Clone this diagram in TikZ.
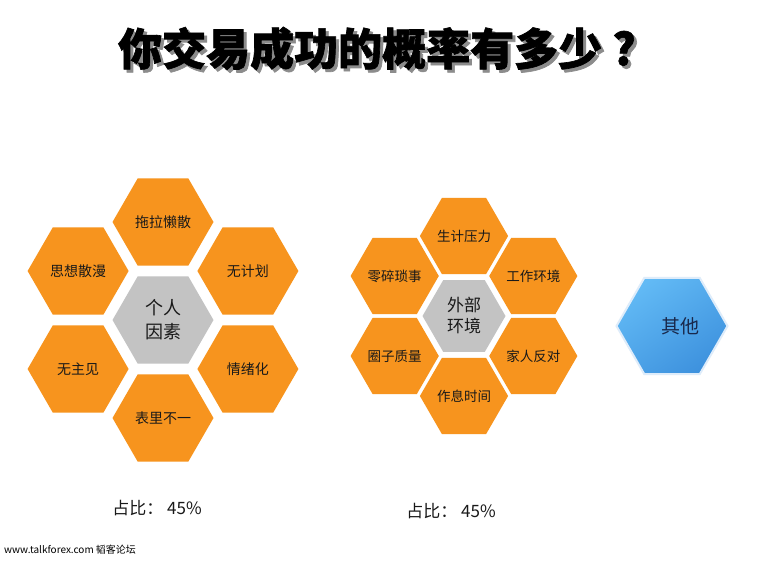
\documentclass[tikz,border=0pt]{standalone}
\usepackage{fontspec}
\setmainfont{Noto Sans CJK SC}
\newfontfamily\titlecjk{Noto Sans CJK SC}[BoldFeatures={FakeBold=1.5}]
\usetikzlibrary{shapes.geometric,shadings}
\definecolor{hexorange}{RGB}{247,148,30}
\definecolor{hexgray}{RGB}{195,195,195}
\definecolor{bluelight}{RGB}{98,186,245}
\definecolor{bluedark}{RGB}{62,146,222}
\definecolor{blueedge}{RGB}{222,236,250}
\definecolor{navytext}{RGB}{25,40,75}
\definecolor{labeltext}{RGB}{25,25,25}
\newcommand{\titletext}{你交易成功的概率有多少 ?}
\begin{document}
\begin{tikzpicture}[x=1pt,y=-1pt,
  hexbase/.style={regular polygon, regular polygon sides=6, inner sep=0pt, text=labeltext},
  hexbig/.style={hexbase, minimum size=101pt, fill=hexorange, font=\fontsize{14}{16}\selectfont},
  hexbigc/.style={hexbase, minimum size=101pt, fill=hexgray, align=center, font=\fontsize{18}{24}\selectfont},
  hexsmall/.style={hexbase, minimum size=83pt, fill=hexorange, font=\fontsize{13.5}{15}\selectfont},
  hexsmallc/.style={hexbase, minimum size=83pt, fill=hexgray, align=center, font=\fontsize{17}{21}\selectfont},
  hexblue/.style={hexbase, minimum size=111pt, top color=bluelight, bottom color=bluedark, shading angle=35, draw=blueedge, line width=2pt},
  titlefont/.style={font=\titlecjk\fontsize{44}{48}\selectfont\bfseries},
  ratio/.style={font=\fontsize{17}{20}\selectfont, text=labeltext}
]
\useasboundingbox (0,0) rectangle (765,560);
\fill[white] (0,0) rectangle (765,560);

% title with drop shadow (one text node)
\node[titlefont, text=black] (title) at (377,50)
  {\makebox[0pt][l]{\hspace{3pt}\raisebox{-3pt}{\textcolor{black!45}{\titletext}}}\titletext};

% left cluster
\node[hexbigc] (p0) at (163,320) {个人\\因素};
\node[hexbig] (p1) at (163,222) {拖拉懒散};
\node[hexbig] (p2) at (78.1,271) {思想散漫};
\node[hexbig] (p3) at (247.9,271) {无计划};
\node[hexbig] (p4) at (78.1,369) {无主见};
\node[hexbig] (p5) at (247.9,369) {情绪化};
\node[hexbig] (p6) at (163,418) {表里不一};

% right cluster
\node[hexsmallc] (e0) at (464,316) {外部\\环境};
\node[hexsmall] (e1) at (464,236) {生计压力};
\node[hexsmall] (e2) at (394.7,276) {零碎琐事};
\node[hexsmall] (e3) at (533.3,276) {工作环境};
\node[hexsmall] (e4) at (394.7,356) {圈子质量};
\node[hexsmall] (e5) at (533.3,356) {家人反对};
\node[hexsmall] (e6) at (464,396) {作息时间};

% other
\node[hexblue] (o0) at (672,326) {};
\node[font=\fontsize{19}{22}\selectfont, text=navytext] (o0text) at (680,326) {其他};

% ratios
\node[ratio] (r1) at (157,508) {占比： 45\%};
\node[ratio] (r2) at (451,511) {占比： 45\%};

% watermark
\node[anchor=west, inner sep=0pt, font=\fontsize{10}{12}\selectfont, text=black] (wm) at (4,550) {www.talkforex.com 韬客论坛};
\end{tikzpicture}
\end{document}
